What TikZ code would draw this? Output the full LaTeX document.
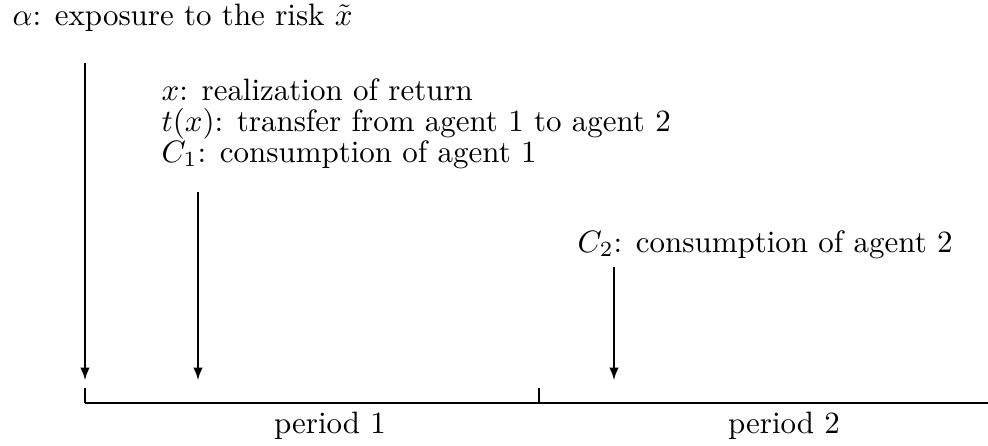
\documentclass[tikz,border=0pt]{standalone}
\usepackage{amsmath}

\begin{document}
\begin{tikzpicture}[x=0.01135cm, y=-0.01135cm, >=latex]
    \useasboundingbox (0,0) rectangle (988,445);

    % Time line
    \coordinate (t0) at (85,403);
    \coordinate (t1) at (539,403);
    \coordinate (tend) at (988,403);
    \draw (t0) -- (tend);
    \draw (t0) -- ++(0,-15);
    \draw (t1) -- ++(0,-15);
    \node[anchor=base] (per1) at (330,433) {period 1};
    \node[anchor=base] (per2) at (784,433) {period 2};

    % Labels
    \node[anchor=base west, inner sep=0pt] (alpha) at (12,25) {$\alpha$: exposure to the risk $\tilde{x}$};
    \node[anchor=base west, inner sep=0pt] (real) at (161,100) {$x$: realization of return};
    \node[anchor=base west, inner sep=0pt] (trans) at (161,131) {$t(x)$: transfer from agent 1 to agent 2};
    \node[anchor=base west, inner sep=0pt] (cons1) at (161,162) {$C_1$: consumption of agent 1};
    \node[anchor=base west, inner sep=0pt] (cons2) at (577,252) {$C_2$: consumption of agent 2};

    % Arrows onto the time line
    \coordinate (a0) at (85,63);
    \coordinate (b0) at (85,380);
    \coordinate (a1) at (198,192);
    \coordinate (b1) at (198,380);
    \coordinate (a2) at (614,267);
    \coordinate (b2) at (614,380);
    \draw[->] (a0) -- (b0);
    \draw[->] (a1) -- (b1);
    \draw[->] (a2) -- (b2);

\end{tikzpicture}
\end{document}
